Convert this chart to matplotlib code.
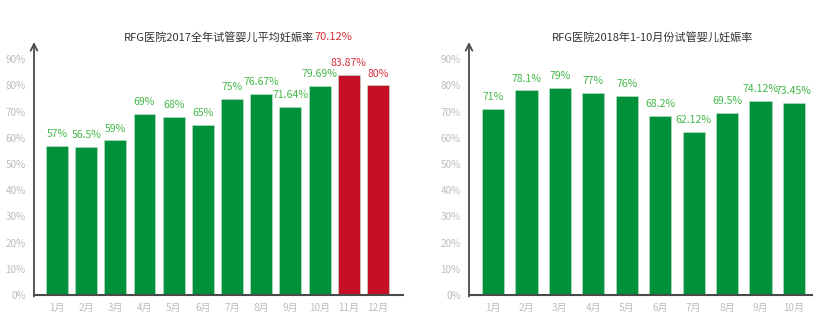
import matplotlib
matplotlib.use("Agg")
import matplotlib.pyplot as plt

plt.rcParams['font.family'] = ['Noto Sans CJK SC', 'DejaVu Sans']

# 2017 monthly rates
months_2017 = ['1月', '2月', '3月', '4月', '5月', '6月', '7月', '8月', '9月', '10月', '11月', '12月']
rates_2017 = [57, 56.5, 59, 69, 68, 65, 75, 76.67, 71.64, 79.69, 83.87, 80]
labels_2017 = ['57%', '56.5%', '59%', '69%', '68%', '65%', '75%', '76.67%', '71.64%', '79.69%', '83.87%', '80%']
highlight_2017 = [False] * 10 + [True, True]
avg_2017 = '70.12%'

# 2018 Jan-Oct rates
months_2018 = ['1月', '2月', '3月', '4月', '5月', '6月', '7月', '8月', '9月', '10月']
rates_2018 = [71, 78.1, 79, 77, 76, 68.2, 62.12, 69.5, 74.12, 73.45]
labels_2018 = ['71%', '78.1%', '79%', '77%', '76%', '68.2%', '62.12%', '69.5%', '74.12%', '73.45%']

yticks = list(range(0, 100, 10))

GREEN = '#00913a'
RED = '#c40f25'
GREEN_TXT = '#45b84a'
RED_TXT = '#d8303a'
TICK_TXT = '#bdbdbd'
AXIS = '#4a4a4a'
W, H = 837, 334


def draw_panel(ax, months, rates, labels, highlight, width, xlim):
    x = list(range(len(months)))
    colors = [RED if h else GREEN for h in highlight]
    ax.bar(x, rates, width=width, color=colors, edgecolor='#bfe3c8', linewidth=0.4)
    for xi, r, lab, h in zip(x, rates, labels, highlight):
        ax.annotate(lab, (xi, r), xytext=(0, 5), textcoords='offset points',
                    ha='center', va='bottom', fontsize=7.6,
                    color=RED_TXT if h else GREEN_TXT)
    ax.set_xlim(*xlim)
    ax.set_ylim(0, 96.6)
    ax.set_xticks(x)
    ax.set_xticklabels(months, fontsize=7.2, color=TICK_TXT)
    ax.set_yticks(yticks)
    ax.set_yticklabels([f'{t}%' for t in yticks], fontsize=7.2, color=TICK_TXT)
    ax.tick_params(length=0, pad=6)
    for s in ('top', 'right', 'left'):
        ax.spines[s].set_visible(False)
    ax.spines['bottom'].set_color(AXIS)
    ax.spines['bottom'].set_linewidth(1.5)
    # vertical axis with an open arrow head
    ax.annotate('', xy=(0, 1.0), xytext=(0, -0.006), xycoords='axes fraction',
                arrowprops=dict(arrowstyle='->', color=AXIS, lw=1.3,
                                mutation_scale=12, shrinkA=0, shrinkB=0))


fig = plt.figure(figsize=(W / 100, H / 100), dpi=100)
ax1 = fig.add_axes([34 / W, (H - 295) / H, (403 - 34) / W, (295 - 42) / H])
ax2 = fig.add_axes([469 / W, (H - 295) / H, (812 - 469) / W, (295 - 42) / H])

draw_panel(ax1, months_2017, rates_2017, labels_2017, highlight_2017, 0.75, (-0.79, 11.86))
draw_panel(ax2, months_2018, rates_2018, labels_2018, [False] * 10, 0.66, (-0.72, 9.54))

# titles; the 2017 title ends with the red yearly average
title_y = 1 - 37 / H
t1 = fig.text(0, title_y, 'RFG医院2017全年试管婴儿平均妊娠率', fontsize=8,
              color='#333333', va='center', ha='left')
t1b = fig.text(0, title_y, avg_2017, fontsize=8, color=RED_TXT, va='center', ha='left')
fig.canvas.draw()
r = fig.canvas.get_renderer()
w1 = t1.get_window_extent(r).width
w2 = t1b.get_window_extent(r).width
start = 238 - (w1 + w2) / 2
t1.set_x(start / W)
t1b.set_x((start + w1) / W)

fig.text(653 / W, title_y, 'RFG医院2018年1-10月份试管婴儿妊娠率', fontsize=8,
         color='#333333', va='center', ha='center')

fig.savefig('out.png', dpi=100)
